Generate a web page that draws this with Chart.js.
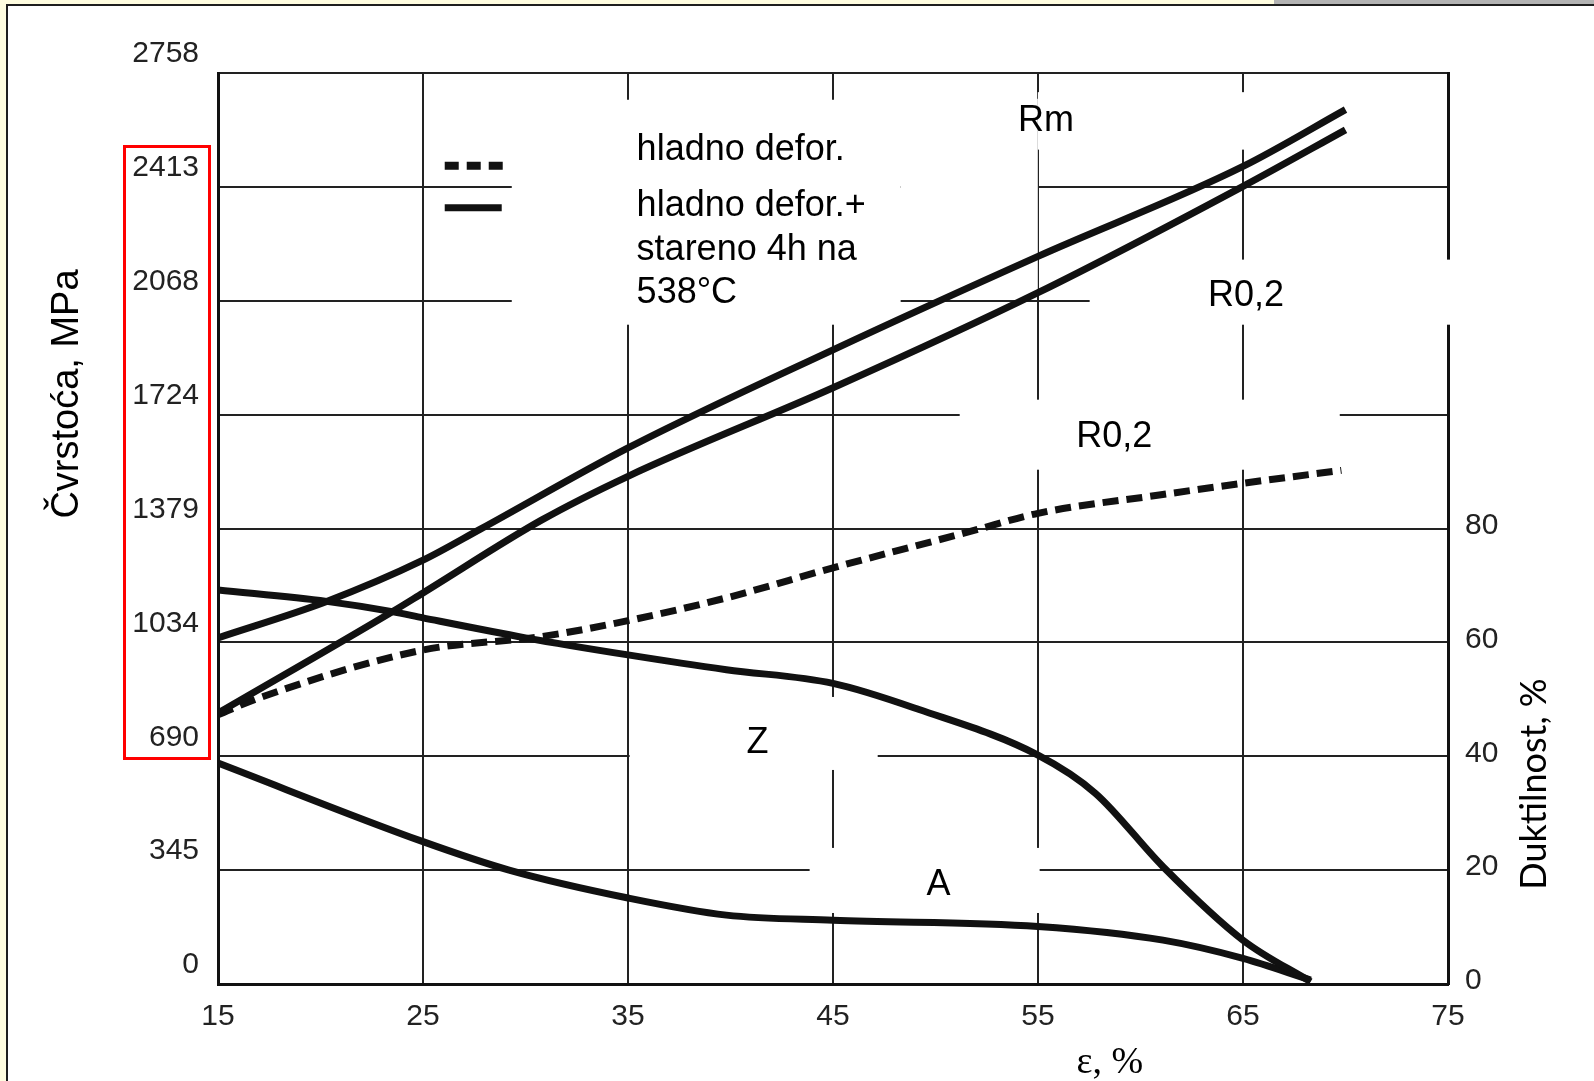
<!DOCTYPE html>
<html>
<head>
<meta charset="utf-8">
<title>Čvrstoća i duktilnost</title>
<script src="https://cdn.jsdelivr.net/npm/chart.js@4.4.1/dist/chart.umd.min.js"></script>
<style>
  html, body { margin: 0; padding: 0; }
  body { width: 1594px; height: 1081px; background: #fffde0; position: relative; overflow: hidden; }
  #sheet { position: absolute; left: 6px; top: 4px; right: 0; bottom: 0; background: #fff;
           border-left: 2px solid #1e1e1e; border-top: 2px solid #1e1e1e; }
  #tab { position: absolute; left: 1274px; top: 0; width: 320px; height: 4px; background: #b3b3b3; }
  #mark { position: absolute; left: 123px; top: 145px; width: 82px; height: 609px; border: 3px solid #f00; }
  canvas { position: absolute; left: 0; top: 0; }
</style>
</head>
<body>
<div id="tab"></div>
<div id="sheet"></div>
<canvas id="chart" width="1594" height="1081"></canvas>
<div id="mark"></div>
<script>
//////////////////////// Data ////////////////////////
// x axis: ε, %
const strainTicks = [15, 25, 35, 45, 55, 65, 75];
// left axis: čvrstoća, MPa (50 ksi steps)
const strengthTicks = [0, 344.75, 689.5, 1034.25, 1379, 1723.75, 2068.5, 2413.25, 2758];
const strengthLabels = ['0', '345', '690', '1034', '1379', '1724', '2068', '2413', '2758'];
// right axis: duktilnost, %
const ductilityTicks = [0, 20, 40, 60, 80];

// Rm, hladno defor. + stareno
const rmStrain = [15, 20.3, 25, 27.8, 35, 45, 55, 65, 70];
const rmValues = [1048, 1158, 1283, 1377, 1623, 1920, 2203, 2475, 2647];
// R0,2, hladno defor. + stareno
const rpAgedStrain = [15, 23.5, 25, 30.8, 35, 45, 55, 65, 70];
const rpAgedValues = [820, 1127, 1184, 1405, 1537, 1805, 2093, 2415, 2586];
// R0,2, hladno defor. (dashed)
const rpColdStrain = [15, 17, 25, 30.8, 35, 39.8, 45, 51.7, 55, 61, 65, 69.8];
const rpColdValues = [815, 866, 1011, 1052, 1100, 1169, 1260, 1370, 1425, 1481, 1516, 1555];
// Z (kontrakcija), %
const zStrain = [15, 20.3, 23.5, 25, 30, 35, 39.8, 45, 49.2, 55, 57.8, 61.1, 65, 68.3];
const zValues = [69.2, 67.2, 65.4, 64.3, 60.8, 57.8, 55.2, 52.8, 48.2, 40.2, 33.5, 20.6, 7.7, 0.4];
// A (istezanje), %
const aStrain = [15, 25, 29.2, 35, 39.8, 45, 55, 61.1, 65, 68.3];
const aValues = [38.8, 25.0, 20.0, 15.1, 12.1, 11.2, 10.1, 7.7, 4.5, 0.7];

//////////////////////// Layout of labels ////////////////////////
// white boxes of the pasted labels, in data units: [ε from, ε to, MPa from, MPa to]
const maskBoxes = [
    [29.33, 48.30, 1996, 2677],
    [48.30, 54.99, 2102, 2680],
    [54.99, 66.79, 2526, 2700],
    [57.52, 76.55, 1996, 2193],
    [51.18, 69.72, 1557, 1769],
    [35.08, 47.18, 648, 869],
    [43.86, 55.08, 215, 412]
];
// [text, ε, MPa] - left edge and baseline
const curveLabels = [
    ['hladno defor.', 35.42, 2495],
    ['hladno defor.+', 35.42, 2324],
    ['stareno 4h na', 35.42, 2192],
    ['538°C', 35.42, 2061],
    ['Rm', 54.02, 2581],
    ['R0,2', 63.29, 2053],
    ['R0,2', 56.87, 1627],
    ['Z', 40.78, 700],
    ['A', 49.56, 270]
];

const tickFont = "'Liberation Sans', Arial, sans-serif";
const ink = '#111';

const pts = (xs, ys) => xs.map((x, i) => ({ x: x, y: ys[i] }));

function line(label, data, axis, dash) {
    return {
        label: label,
        data: data,
        yAxisID: axis,
        borderColor: ink,
        borderWidth: 7,
        borderDash: dash || [],
        borderCapStyle: 'butt',
        pointRadius: 0,
        fill: false,
        cubicInterpolationMode: 'monotone'
    };
}

// draws the white label boxes, the texts, legend samples and axis titles
const overlay = {
    id: 'overlay',
    beforeDatasetsDraw(chart) {
        const { ctx, scales: { x, y } } = chart;
        ctx.save();
        ctx.fillStyle = '#fff';
        maskBoxes.forEach(b => {
            const x1 = x.getPixelForValue(b[0]), x2 = x.getPixelForValue(b[1]);
            const y1 = y.getPixelForValue(b[3]), y2 = y.getPixelForValue(b[2]);
            ctx.fillRect(x1, y1, x2 - x1, y2 - y1);
        });
        ctx.restore();
    },
    afterDatasetsDraw(chart) {
        const { ctx, chartArea, scales: { x, y } } = chart;
        ctx.save();
        ctx.fillStyle = '#000';
        ctx.font = "36px 'Liberation Sans', Arial, sans-serif";
        ctx.textAlign = 'left';
        ctx.textBaseline = 'alphabetic';
        curveLabels.forEach(t => {
            ctx.fillText(t[0], x.getPixelForValue(t[1]), y.getPixelForValue(t[2]));
        });

        // legend samples
        ctx.strokeStyle = ink;
        ctx.lineWidth = 8;
        ctx.lineCap = 'butt';
        ctx.setLineDash([14, 8]);
        ctx.beginPath();
        ctx.moveTo(x.getPixelForValue(26.06), y.getPixelForValue(2477));
        ctx.lineTo(x.getPixelForValue(28.99), y.getPixelForValue(2477));
        ctx.stroke();
        ctx.setLineDash([]);
        ctx.lineWidth = 7;
        ctx.beginPath();
        ctx.moveTo(x.getPixelForValue(26.06), y.getPixelForValue(2350));
        ctx.lineTo(x.getPixelForValue(28.84), y.getPixelForValue(2350));
        ctx.stroke();

        // axis titles
        ctx.textAlign = 'center';
        ctx.textBaseline = 'middle';
        ctx.save();
        ctx.translate(chartArea.left - 150, chartArea.top + 321);
        ctx.rotate(-Math.PI / 2);
        ctx.font = "38px 'Liberation Sans', Arial, sans-serif";
        ctx.fillText('Čvrstoća, MPa', 0, 0);
        ctx.restore();

        ctx.save();
        ctx.translate(chartArea.right + 86, chartArea.top + 711);
        ctx.rotate(-Math.PI / 2);
        ctx.font = "36px Lato, 'Open Sans', sans-serif";
        ctx.fillText('Duktilnost, %', 0, 0);
        ctx.restore();

        ctx.font = "38px 'Liberation Serif', 'Times New Roman', serif";
        ctx.fillText('ε, %', x.getPixelForValue(58.5), chartArea.bottom + 79);
        ctx.restore();
    }
};

//////////////////////// Chart ////////////////////////
document.addEventListener('DOMContentLoaded', () => {
    const data = {
        datasets: [
            line('Rm (hladno defor.+stareno)', pts(rmStrain, rmValues), 'y'),
            line('R0,2 (hladno defor.+stareno)', pts(rpAgedStrain, rpAgedValues), 'y'),
            line('R0,2 (hladno defor.)', pts(rpColdStrain, rpColdValues), 'y', [16, 8]),
            line('Z', pts(zStrain, zValues), 'y2'),
            line('A', pts(aStrain, aValues), 'y2')
        ]
    };

    const gridOpts = { color: '#222', lineWidth: 2, drawTicks: false };
    const tickOpts = { color: '#222', font: { family: tickFont, size: 30 }, autoSkip: false, maxRotation: 0 };

    const config = {
        type: 'line',
        data: data,
        options: {
            responsive: false,
            animation: false,
            layout: { padding: { top: 73, left: 0, right: 0, bottom: 0 } },
            plugins: {
                legend: { display: false },
                tooltip: { enabled: false }
            },
            scales: {
                x: {
                    type: 'linear',
                    min: 15,
                    max: 75,
                    afterBuildTicks: s => { s.ticks = strainTicks.map(v => ({ value: v })); },
                    afterFit: s => { s.height = 97; },
                    grid: gridOpts,
                    border: { color: ink, width: 3 },
                    ticks: Object.assign({ padding: 15 }, tickOpts)
                },
                y: {
                    position: 'left',
                    min: 0,
                    max: 2758,
                    afterBuildTicks: s => { s.ticks = strengthTicks.map(v => ({ value: v })); },
                    afterFit: s => { s.width = 218; },
                    grid: gridOpts,
                    border: { color: ink, width: 3 },
                    ticks: Object.assign({
                        padding: 19,
                        labelOffset: -19,
                        callback: (v, i) => strengthLabels[i]
                    }, tickOpts)
                },
                y2: {
                    position: 'right',
                    min: 0,
                    max: 160,
                    afterBuildTicks: s => { s.ticks = ductilityTicks.map(v => ({ value: v })); },
                    afterFit: s => { s.width = 146; },
                    grid: { display: false },
                    border: { color: ink, width: 3 },
                    ticks: Object.assign({ padding: 9, labelOffset: -3 }, tickOpts)
                }
            }
        },
        plugins: [overlay]
    };

    const ctx = document.getElementById('chart').getContext('2d');
    new Chart(ctx, config);
});
</script>
</body>
</html>
